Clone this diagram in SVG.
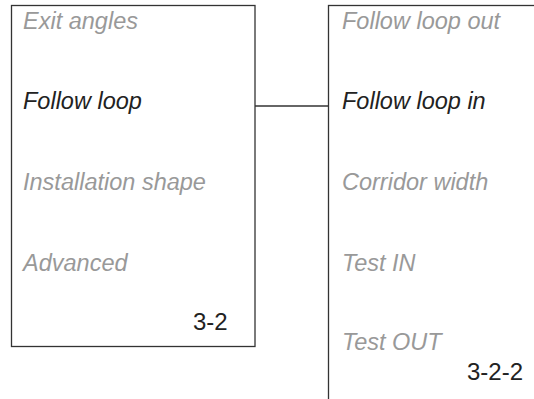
<svg xmlns="http://www.w3.org/2000/svg" width="534" height="399" viewBox="0 0 534 399">
<style>
.box{fill:#fff;stroke:#333;stroke-width:1.3}
.it{font-family:"Liberation Sans",Arial,sans-serif;font-style:italic;font-size:23.5px}
.dim{fill:#999}
.act{fill:#222}
.num{font-family:"Liberation Sans",Arial,sans-serif;font-size:24px;fill:#222}
.conn{stroke:#333;stroke-width:1.3;fill:none}
</style>
<rect width="534" height="399" fill="#fff"/>
<g id="connectors">
<line class="conn" x1="255" y1="106" x2="329" y2="106"/>
</g>
<g id="menu-3-2">
<rect class="box" x="11.5" y="5.5" width="243.5" height="341"/>
<text class="it dim" x="23" y="29">Exit angles</text>
<text class="it act" x="23" y="109">Follow loop</text>
<text class="it dim" x="23" y="190">Installation shape</text>
<text class="it dim" x="23" y="271">Advanced</text>
<text class="num" x="193" y="330">3-2</text>
</g>
<g id="menu-3-2-2">
<rect class="box" x="328.5" y="5.5" width="300" height="500"/>
<text class="it dim" x="342" y="29">Follow loop out</text>
<text class="it act" x="342" y="109">Follow loop in</text>
<text class="it dim" x="342" y="190">Corridor width</text>
<text class="it dim" x="342" y="271">Test IN</text>
<text class="it dim" x="342" y="350">Test OUT</text>
<text class="num" x="467" y="380">3-2-2</text>
</g>
</svg>
